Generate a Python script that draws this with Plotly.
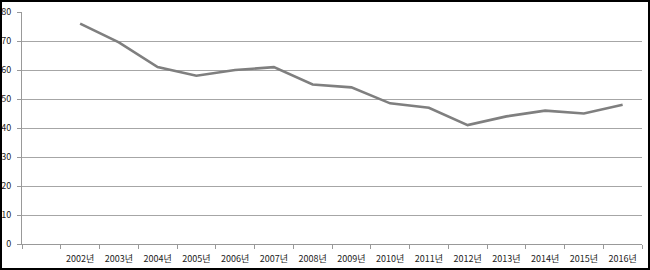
import plotly.graph_objects as go

years = ["2002년", "2003년", "2004년", "2005년", "2006년", "2007년", "2008년", "2009년",
         "2010년", "2011년", "2012년", "2013년", "2014년", "2015년", "2016년"]
values = [76, 69.5, 61, 58, 60, 61, 55, 54, 48.5, 47, 41, 44, 46, 45, 48]
categories = [" "] + years
y_ticks = [0, 10, 20, 30, 40, 50, 60, 70, 80]

W, H = 650, 270
ml, mr, mt, mb = 22, 8, 12, 26
pw, ph = W - ml - mr, H - mt - mb

fig = go.Figure()
fig.add_trace(go.Scatter(
    x=years, y=values, mode="lines",
    line=dict(color="#7f7f7f", width=2.6),
    hoverinfo="x+y", showlegend=False,
))

font = dict(family="Noto Sans CJK KR, DejaVu Sans, sans-serif", size=9, color="#222222")

fig.update_layout(
    width=W, height=H,
    margin=dict(l=ml, r=mr, t=mt, b=mb),
    paper_bgcolor="white", plot_bgcolor="white",
    font=font,
    xaxis=dict(
        type="category", categoryorder="array", categoryarray=categories,
        tickson="boundaries", ticks="outside", ticklen=4, tickcolor="#999999",
        showline=True, linecolor="#999999", linewidth=1,
        showgrid=False, tickfont=font, range=[-0.5, len(categories) - 0.5],
        automargin=False, ticklabelstandoff=6,
    ),
    yaxis=dict(
        range=[0, 80], tickvals=y_ticks, ticks="outside", ticklen=4,
        tickcolor="#999999", showline=True, linecolor="#999999", linewidth=1,
        showgrid=True, gridcolor="#a6a6a6", gridwidth=1, zeroline=False,
        tickfont=font, ticklabelstandoff=4, automargin=False,
    ),
    shapes=[dict(
        type="rect", xref="paper", yref="paper",
        x0=(-ml + 1) / pw, x1=1 + (mr - 1) / pw,
        y0=(-mb + 1) / ph, y1=1 + (mt - 1) / ph,
        line=dict(color="black", width=2), layer="above",
    )],
)

fig.write_html("out.html")
